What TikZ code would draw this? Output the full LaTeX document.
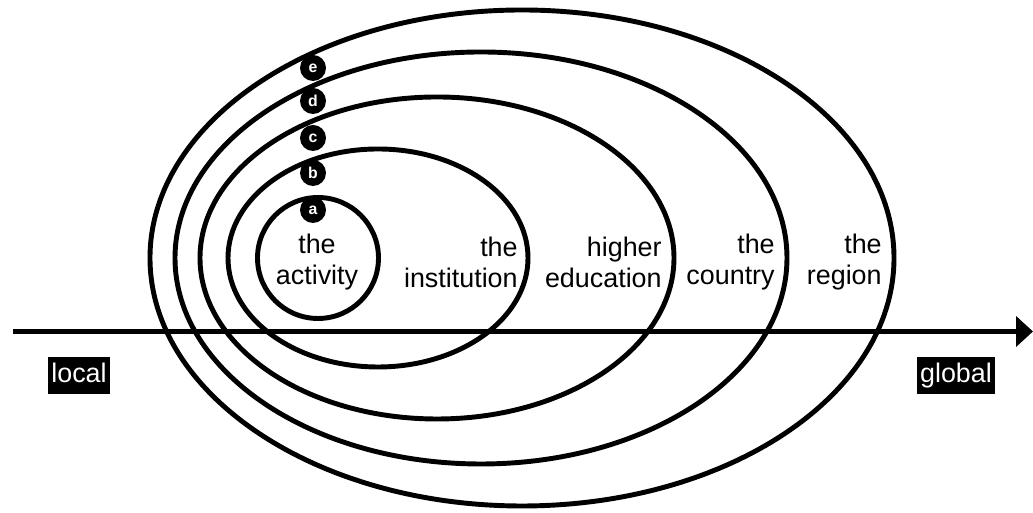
\documentclass[tikz,border=0pt]{standalone}
\usepackage{fontspec}
\setmainfont{Liberation Sans}
\usetikzlibrary{arrows.meta}

\begin{document}
\begin{tikzpicture}[
    ring/.style={line width=2.8pt},
    badge/.style={circle,fill=black,text=white,inner sep=0pt,minimum size=0.52cm,
        font=\bfseries\fontsize{9}{9}\selectfont},
    zone/.style={inner sep=0pt,font=\fontsize{15.3}{17.6}\selectfont},
    tag/.style={fill=black,text=white,inner xsep=0.07cm,inner ysep=0.12cm,
        text height=0.39cm,text depth=0.11cm,font=\fontsize{15.3}{17.6}\selectfont}]
    \useasboundingbox (0,0) rectangle (20.66,10.26);
    %% nested rings
    \draw[ring] (10.44,5.10) ellipse (7.44 and 4.96);
    \draw[ring] (9.62,5.10) ellipse (6.12 and 4.12);
    \draw[ring] (8.74,5.10) ellipse (4.74 and 3.22);
    \draw[ring] (7.56,5.10) ellipse (3.00 and 2.18);
    \draw[ring] (6.36,5.10) circle (1.21);
    %% local to global axis
    \coordinate (lo) at (0.26,3.63);
    \coordinate (hi) at (20.66,3.63);
    \draw[line width=3.4pt,-{Triangle[length=0.34cm,width=0.6cm]}] (lo) -- (hi);
    %% letters on the rings
    \foreach \y/\l in {6.06/a,6.80/b,7.50/c,8.24/d,8.90/e}
        \node[badge] (badge-\l) at (6.26,\y) {\l};
    %% ring names
    \node[zone,align=center] (activity) at (6.34,5.02) {the\\activity};
    \node[zone,align=right,anchor=east] (institution) at (10.36,5.02) {the\\institution};
    \node[zone,align=right,anchor=east] (education) at (13.24,5.02) {higher\\education};
    \node[zone,align=right,anchor=east] (country) at (15.50,5.02) {the\\country};
    \node[zone,align=right,anchor=east] (region) at (17.64,5.02) {the\\region};
    %% ends of the axis
    \node[tag] (local) at (1.58,2.75) {local};
    \node[tag] (global) at (19.12,2.75) {global};
\end{tikzpicture}
\end{document}
